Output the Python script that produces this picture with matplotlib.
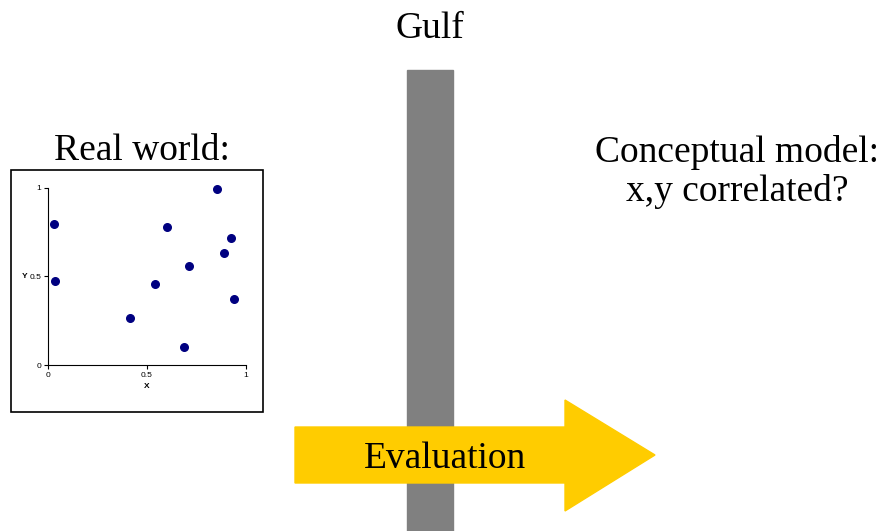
import matplotlib
matplotlib.use('Agg')
import matplotlib.pyplot as plt
from matplotlib.patches import Rectangle, Polygon

x_vals = [0.03, 0.034, 0.414, 0.539, 0.603, 0.688, 0.715, 0.853, 0.889, 0.926, 0.939]
y_vals = [0.793, 0.472, 0.263, 0.459, 0.78, 0.10, 0.56, 0.994, 0.63, 0.714, 0.372]
tick_vals = [0, 0.5, 1]
tick_labels = ['0', '0.5', '1']

W, H = 880, 531
fig = plt.figure(figsize=(8.8, 5.31), dpi=100)

# full-figure canvas in pixel units for the diagram
bg = fig.add_axes([0, 0, 1, 1])
bg.set_xlim(0, W)
bg.set_ylim(H, 0)
bg.axis('off')

serif = ['Liberation Serif', 'DejaVu Serif']
big = 27

# the gulf bar
bg.add_patch(Rectangle((407, 70), 46, H - 70, color='#808080', zorder=1))

# evaluation arrow
arrow = [(295, 427), (565, 427), (565, 400), (655, 455),
         (565, 511), (565, 483), (295, 483)]
bg.add_patch(Polygon(arrow, closed=True, color='#ffcc00', zorder=2))

bg.text(430, 29, 'Gulf', ha='center', va='center', fontsize=big, family=serif)
bg.text(142, 151, 'Real world:', ha='center', va='center', fontsize=big, family=serif)
bg.text(737, 172, 'Conceptual model:\nx,y correlated?', ha='center', va='center',
        fontsize=big, family=serif, linespacing=1.15)
bg.text(445, 459, 'Evaluation', ha='center', va='center', fontsize=big,
        family=serif, zorder=3)

# frame round the scatter
bg.add_patch(Rectangle((11, 170), 252, 242, fill=False, edgecolor='black',
                       linewidth=1.2, zorder=3))

# inset scatter
sans = ['Liberation Sans', 'DejaVu Sans']
ax = fig.add_axes([48.3 / W, (H - 365) / H, 197.4 / W, 177.3 / H])
ax.scatter(x_vals, y_vals, s=30, color='#000080', clip_on=False, zorder=3)
ax.set_xlim(0, 1)
ax.set_ylim(0, 1)
ax.set_xticks(tick_vals)
ax.set_xticklabels(tick_labels)
ax.set_yticks(tick_vals)
ax.set_yticklabels(tick_labels)
ax.tick_params(labelsize=6, length=3, width=0.8, pad=2, colors='black')
for lbl in ax.get_xticklabels() + ax.get_yticklabels():
    lbl.set_family(sans)
for side in ['top', 'right']:
    ax.spines[side].set_visible(False)
for side in ['left', 'bottom']:
    ax.spines[side].set_linewidth(0.8)
ax.set_xlabel('X', fontsize=6, fontweight='bold', labelpad=3, family=sans)
ax.text(-0.105, 0.5, 'Y', transform=ax.transAxes, ha='right', va='center',
        fontsize=6, fontweight='bold', family=sans)

fig.savefig('out.png', dpi=100)
